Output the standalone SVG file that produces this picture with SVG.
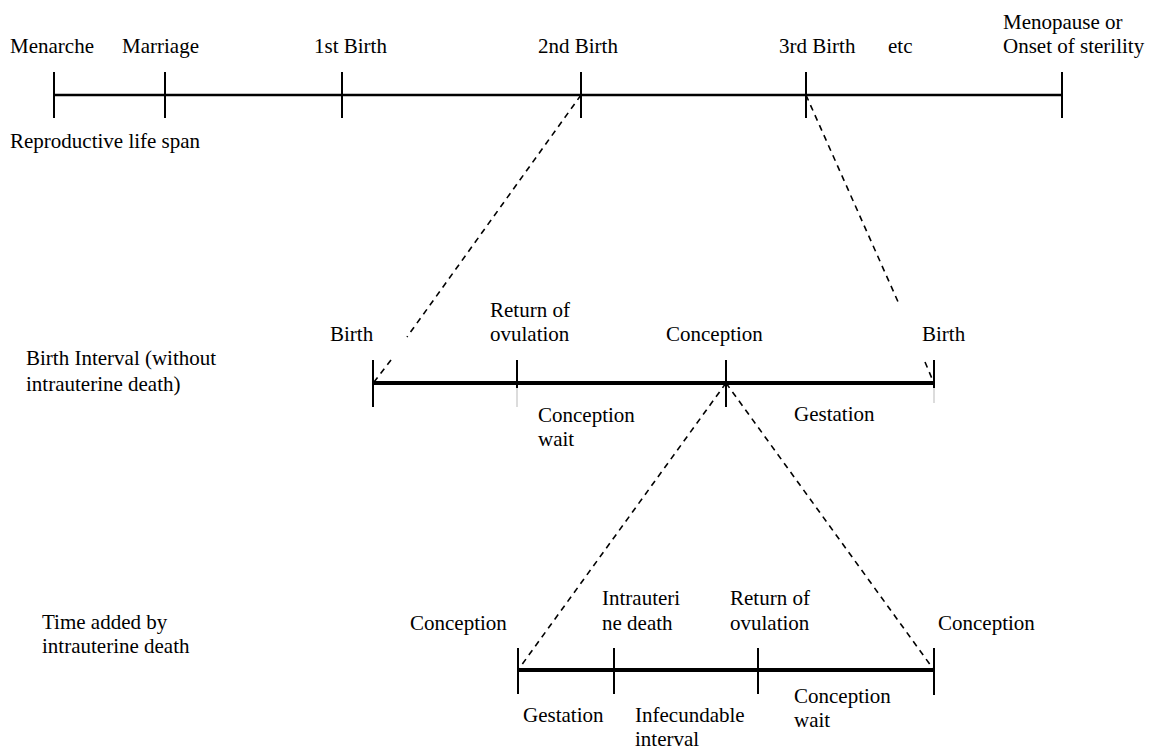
<svg xmlns="http://www.w3.org/2000/svg" width="1152" height="751" viewBox="0 0 1152 751">
<style>
text{font-family:"Liberation Serif","Times New Roman",serif;font-size:21px;fill:#000}
.axis{stroke:#000;fill:none}
.a1{stroke-width:2.7}
.a2{stroke-width:4}
.tick{stroke:#000;stroke-width:2}
.faint{stroke:#d0d0d0;stroke-width:1.5}
.dash{stroke:#000;stroke-width:1.6;stroke-dasharray:6,5;fill:none}
</style>
<rect width="1152" height="751" fill="#fff"/>

<g id="life-span">
  <line class="axis a1" x1="54" y1="95" x2="1062" y2="95"/>
  <text x="10" y="148">Reproductive life span</text>
</g>
<g id="menarche"><line class="tick" x1="54" y1="72" x2="54" y2="118"/><text x="10" y="53">Menarche</text></g>
<g id="marriage"><line class="tick" x1="165" y1="72" x2="165" y2="118"/><text x="122" y="53">Marriage</text></g>
<g id="birth1"><line class="tick" x1="342" y1="72" x2="342" y2="118"/><text x="314" y="53">1st Birth</text></g>
<g id="birth2"><line class="tick" x1="581" y1="72" x2="581" y2="118"/><text x="538" y="53">2nd Birth</text></g>
<g id="birth3"><line class="tick" x1="806" y1="72" x2="806" y2="118"/><text x="779" y="53">3rd Birth</text></g>
<g id="etc"><text x="888" y="53">etc</text></g>
<g id="menopause"><line class="tick" x1="1062" y1="72" x2="1062" y2="118"/><text x="1003" y="29">Menopause or</text><text x="1003" y="53">Onset of sterility</text></g>

<g id="birth-interval">
  <line class="axis a2" x1="373" y1="383" x2="934" y2="383"/>
  <text x="26" y="365">Birth Interval (without</text>
  <text x="26" y="391">intrauterine death)</text>
  <text x="538" y="422">Conception</text>
  <text x="538" y="446">wait</text>
  <text x="794" y="421">Gestation</text>
</g>
<g id="bi-birth-start"><line class="tick" x1="373" y1="360" x2="373" y2="407"/><text x="330" y="341">Birth</text></g>
<g id="bi-ovulation"><line class="tick" x1="517" y1="360" x2="517" y2="388"/><line class="faint" x1="517" y1="388" x2="517" y2="407"/><text x="490" y="317">Return of</text><text x="490" y="341">ovulation</text></g>
<g id="bi-conception"><line class="tick" x1="726" y1="360" x2="726" y2="407"/><text x="666" y="341">Conception</text></g>
<g id="bi-birth-end"><line class="tick" x1="934" y1="360" x2="934" y2="388"/><line class="faint" x1="934" y1="388" x2="934" y2="403"/><text x="922" y="341">Birth</text></g>

<g id="death-interval">
  <line class="axis a2" x1="518" y1="670" x2="934" y2="670"/>
  <text x="42" y="629">Time added by</text>
  <text x="42" y="653">intrauterine death</text>
  <text x="523" y="722">Gestation</text>
  <text x="635" y="722">Infecundable</text>
  <text x="635" y="746">interval</text>
  <text x="794" y="703">Conception</text>
  <text x="794" y="727">wait</text>
</g>
<g id="di-conception-start"><line class="tick" x1="518" y1="648" x2="518" y2="694"/><text x="410" y="630">Conception</text></g>
<g id="di-death"><line class="tick" x1="614" y1="648" x2="614" y2="694"/><text x="602" y="605">Intrauteri</text><text x="602" y="630">ne death</text></g>
<g id="di-ovulation"><line class="tick" x1="758" y1="648" x2="758" y2="694"/><text x="730" y="605">Return of</text><text x="730" y="630">ovulation</text></g>
<g id="di-conception-end"><line class="tick" x1="934" y1="648" x2="934" y2="695"/><text x="938" y="630">Conception</text></g>

<g id="connectors">
  <line class="dash" x1="581" y1="95" x2="407" y2="337"/>
  <line class="dash" x1="391" y1="360" x2="374" y2="382"/>
  <line class="dash" x1="806" y1="95" x2="899" y2="304"/>
  <line class="dash" x1="925" y1="362" x2="933" y2="381"/>
  <line class="dash" x1="726" y1="383" x2="518" y2="670"/>
  <line class="dash" x1="726" y1="383" x2="934" y2="670"/>
</g>
</svg>
